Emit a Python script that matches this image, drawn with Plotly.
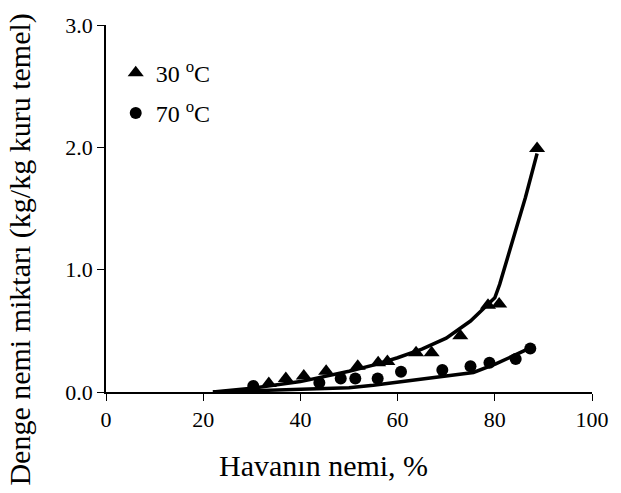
import plotly.graph_objects as go

# Measured points
hum30 = [33.5, 37.0, 40.7, 45.3, 51.8, 56.0, 57.9, 63.8, 67.0, 72.9, 78.6, 80.9, 88.7]
emc30 = [0.07, 0.11, 0.13, 0.17, 0.21, 0.24, 0.25, 0.32, 0.32, 0.46, 0.71, 0.72, 1.99]
hum70 = [30.3, 43.9, 48.3, 51.3, 55.9, 60.7, 69.2, 75.0, 78.9, 84.3, 87.3]
emc70 = [0.05, 0.075, 0.11, 0.11, 0.11, 0.165, 0.18, 0.21, 0.24, 0.27, 0.355]

# Model curves
fit30_x = [22.0, 30.0, 40.0, 50.0, 55.0, 60.0, 65.0, 70.0, 75.0, 78.0, 80.0, 81.0, 84.0, 86.3, 88.7]
fit30_y = [0.0, 0.03, 0.085, 0.17, 0.22, 0.28, 0.35, 0.44, 0.58, 0.69, 0.77, 0.88, 1.27, 1.59, 1.95]
fit70_x = [22.0, 30.0, 40.0, 50.0, 55.0, 62.0, 69.0, 75.6, 80.2, 83.6, 87.3]
fit70_y = [0.0, 0.01, 0.02, 0.035, 0.055, 0.09, 0.12, 0.16, 0.23, 0.29, 0.36]

legend_names = ["30 <sup>o</sup>C", "70 <sup>o</sup>C"]
x_ticks = [0, 20, 40, 60, 80, 100]
y_ticks = [0.0, 1.0, 2.0, 3.0]
y_tick_text = ["0.0", "1.0", "2.0", "3.0"]

FONT = "Liberation Serif"

fig = go.Figure()
fig.add_trace(go.Scatter(x=fit30_x, y=fit30_y, mode="lines",
                         line=dict(color="black", width=3.5), showlegend=False))
fig.add_trace(go.Scatter(x=fit70_x, y=fit70_y, mode="lines",
                         line=dict(color="black", width=3.5), showlegend=False))
fig.add_trace(go.Scatter(x=hum30, y=emc30, mode="markers", name=legend_names[0],
                         legendgroup="a",
                         marker=dict(symbol="triangle-up", size=14, color="black")))
fig.add_trace(go.Scatter(x=hum70, y=emc70, mode="markers", name=legend_names[1],
                         legendgroup="b",
                         marker=dict(symbol="circle", size=12, color="black")))

pw = 621 - 106 - 20
ph = 493 - 25 - 101

fig.update_layout(
    width=621, height=493,
    margin=dict(l=106, r=20, t=25, b=101),
    paper_bgcolor="white", plot_bgcolor="white",
    font=dict(family=FONT, color="black", size=21),
    legend=dict(x=0.02, y=0.93, xanchor="left", yanchor="top",
                bgcolor="rgba(0,0,0,0)", font=dict(size=24, family=FONT),
                tracegroupgap=6, itemwidth=30),
    xaxis=dict(range=[0, 100], tickvals=x_ticks, ticks="outside", ticklen=7,
               tickwidth=1.2, tickcolor="black", showline=True, linecolor="black",
               linewidth=2, showgrid=False, zeroline=False,
               tickfont=dict(size=22, family=FONT)),
    yaxis=dict(range=[0, 3], tickvals=y_ticks, ticktext=y_tick_text, ticks="outside",
               ticklen=7, tickwidth=1.2, tickcolor="black", showline=True,
               linecolor="black", linewidth=1.5, showgrid=False, zeroline=False,
               tickfont=dict(size=22, family=FONT)),
    annotations=[
        dict(text="Havanın nemi, %", x=(328 - 106) / pw, y=(392 - 465) / ph,
             xref="paper", yref="paper", xanchor="center", yanchor="middle",
             showarrow=False, font=dict(size=30, family=FONT)),
        dict(text="Denge nemi miktarı (kg/kg kuru temel)", x=(18 - 106) / pw,
             y=(392 - 250) / ph, xref="paper", yref="paper", textangle=-90,
             xanchor="center", yanchor="middle",
             showarrow=False, font=dict(size=30, family=FONT)),
    ],
)

fig.write_html("out.html")
